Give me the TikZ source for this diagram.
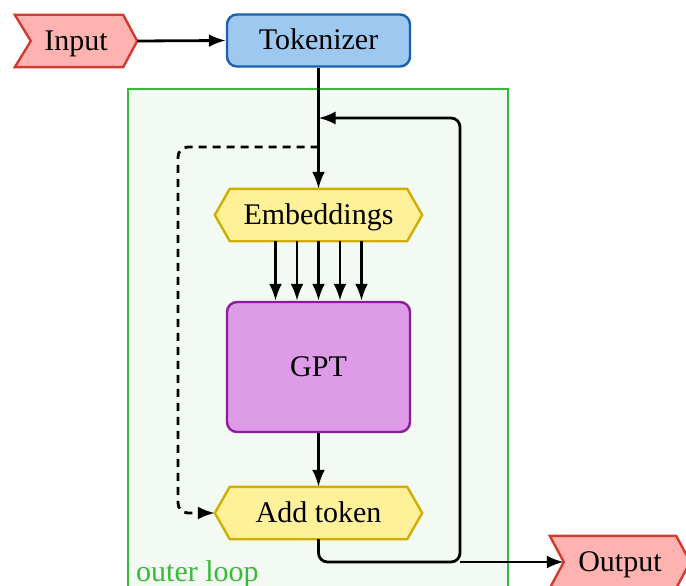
\documentclass[tikz,border=0pt]{standalone}
\usepackage{fontspec}
\setmainfont{Liberation Serif}
\usetikzlibrary{arrows.meta,backgrounds,calc}
\definecolor{redfill}{HTML}{FFB3B0}
\definecolor{redline}{HTML}{D03A30}
\definecolor{bluefill}{HTML}{9DC8F0}
\definecolor{blueline}{HTML}{1A5FB0}
\definecolor{yelfill}{HTML}{FFF199}
\definecolor{yelline}{HTML}{D0AE00}
\definecolor{purfill}{HTML}{DD9BE8}
\definecolor{purline}{HTML}{8E1A9E}
\definecolor{grnline}{HTML}{3AB83A}
\definecolor{grnfill}{HTML}{F3F9F3}
\tikzset{
  lbl/.style={inner sep=0pt, font=\fontsize{30}{35}\selectfont, text=black,
              text height=19pt, text depth=0pt},
  slot/.style={lbl, minimum width=#1, minimum height=52pt},
  redshape/.style={fill=redfill, draw=redline, line width=2.4pt, line join=miter},
  yelshape/.style={fill=yelfill, draw=yelline, line width=2.4pt, line join=miter},
  roundbox/.style={lbl, draw, line width=2.4pt, rounded corners=10pt},
  conn/.style={line width=2.8pt, -{Latex[length=17pt,width=13pt]}},
}
\begin{document}
\begin{tikzpicture}[x=1pt,y=-1pt]
\useasboundingbox (0,0) rectangle (686,586);
% nodes
\node[slot=122pt] (in) at (76,41) {Input};
\node[roundbox, fill=bluefill, draw=blueline, minimum width=183pt, minimum height=52pt] (tok) at (318.5,40.5) {Tokenizer};
\node[slot=207pt] (emb) at (318.5,215) {Embeddings};
\node[roundbox, fill=purfill, draw=purline, minimum width=183pt, minimum height=130pt] (gpt) at (318.5,367) {GPT};
\node[slot=207pt] (add) at (318.5,513) {Add token};
\node[slot=140pt] (out) at (620,562) {Output};
\node[lbl, text=grnline, anchor=base west] (loopname) at (136,581) {outer loop};
\coordinate (loopbox1) at (128,89);
\coordinate (loopbox2) at (508,610);
\begin{scope}[on background layer]
  \draw[grnline, fill=grnfill, line width=2.4pt] (loopbox1) rectangle (loopbox2);
  % Input signal
  \path[redshape] (in.north west) -- ([xshift=-14pt]in.north east) -- (in.east)
     -- ([xshift=-14pt]in.south east) -- (in.south west) -- ([xshift=16pt]in.west) -- cycle;
  % Output signal
  \path[redshape] (out.north west) -- ([xshift=-14pt]out.north east) -- (out.east)
     -- ([xshift=-14pt]out.south east) -- (out.south west) -- ([xshift=14pt]out.west) -- cycle;
  % hexagons
  \path[yelshape] ([xshift=15pt]emb.north west) -- ([xshift=-15pt]emb.north east) -- (emb.east)
     -- ([xshift=-15pt]emb.south east) -- ([xshift=15pt]emb.south west) -- (emb.west) -- cycle;
  \path[yelshape] ([xshift=15pt]add.north west) -- ([xshift=-15pt]add.north east) -- (add.east)
     -- ([xshift=-15pt]add.south east) -- ([xshift=15pt]add.south west) -- (add.west) -- cycle;
\end{scope}
% connectors
\coordinate (join) at (318.5,118);
\coordinate (dashstart) at (318.5,147);
\coordinate (rightcol) at (460,562);
\draw[conn] (in.east) -- (tok.west);
\draw[conn] (tok.south) -- (emb.north);
\foreach \dx in {-43,-21.5,0,21.5,43}{
  \draw[conn] ([xshift=\dx pt]emb.south) -- ([xshift=\dx pt]gpt.north);
}
\draw[conn] (gpt.south) -- (add.north);
\draw[conn, rounded corners=9pt] (add.south) |- (rightcol) |- (join);
\draw[conn] (rightcol) -- ([xshift=14pt]out.west);
\draw[conn, dashed, dash pattern=on 8pt off 6pt, rounded corners=10pt]
  (dashstart) -| (178,513) -- (add.west);
\end{tikzpicture}
\end{document}
